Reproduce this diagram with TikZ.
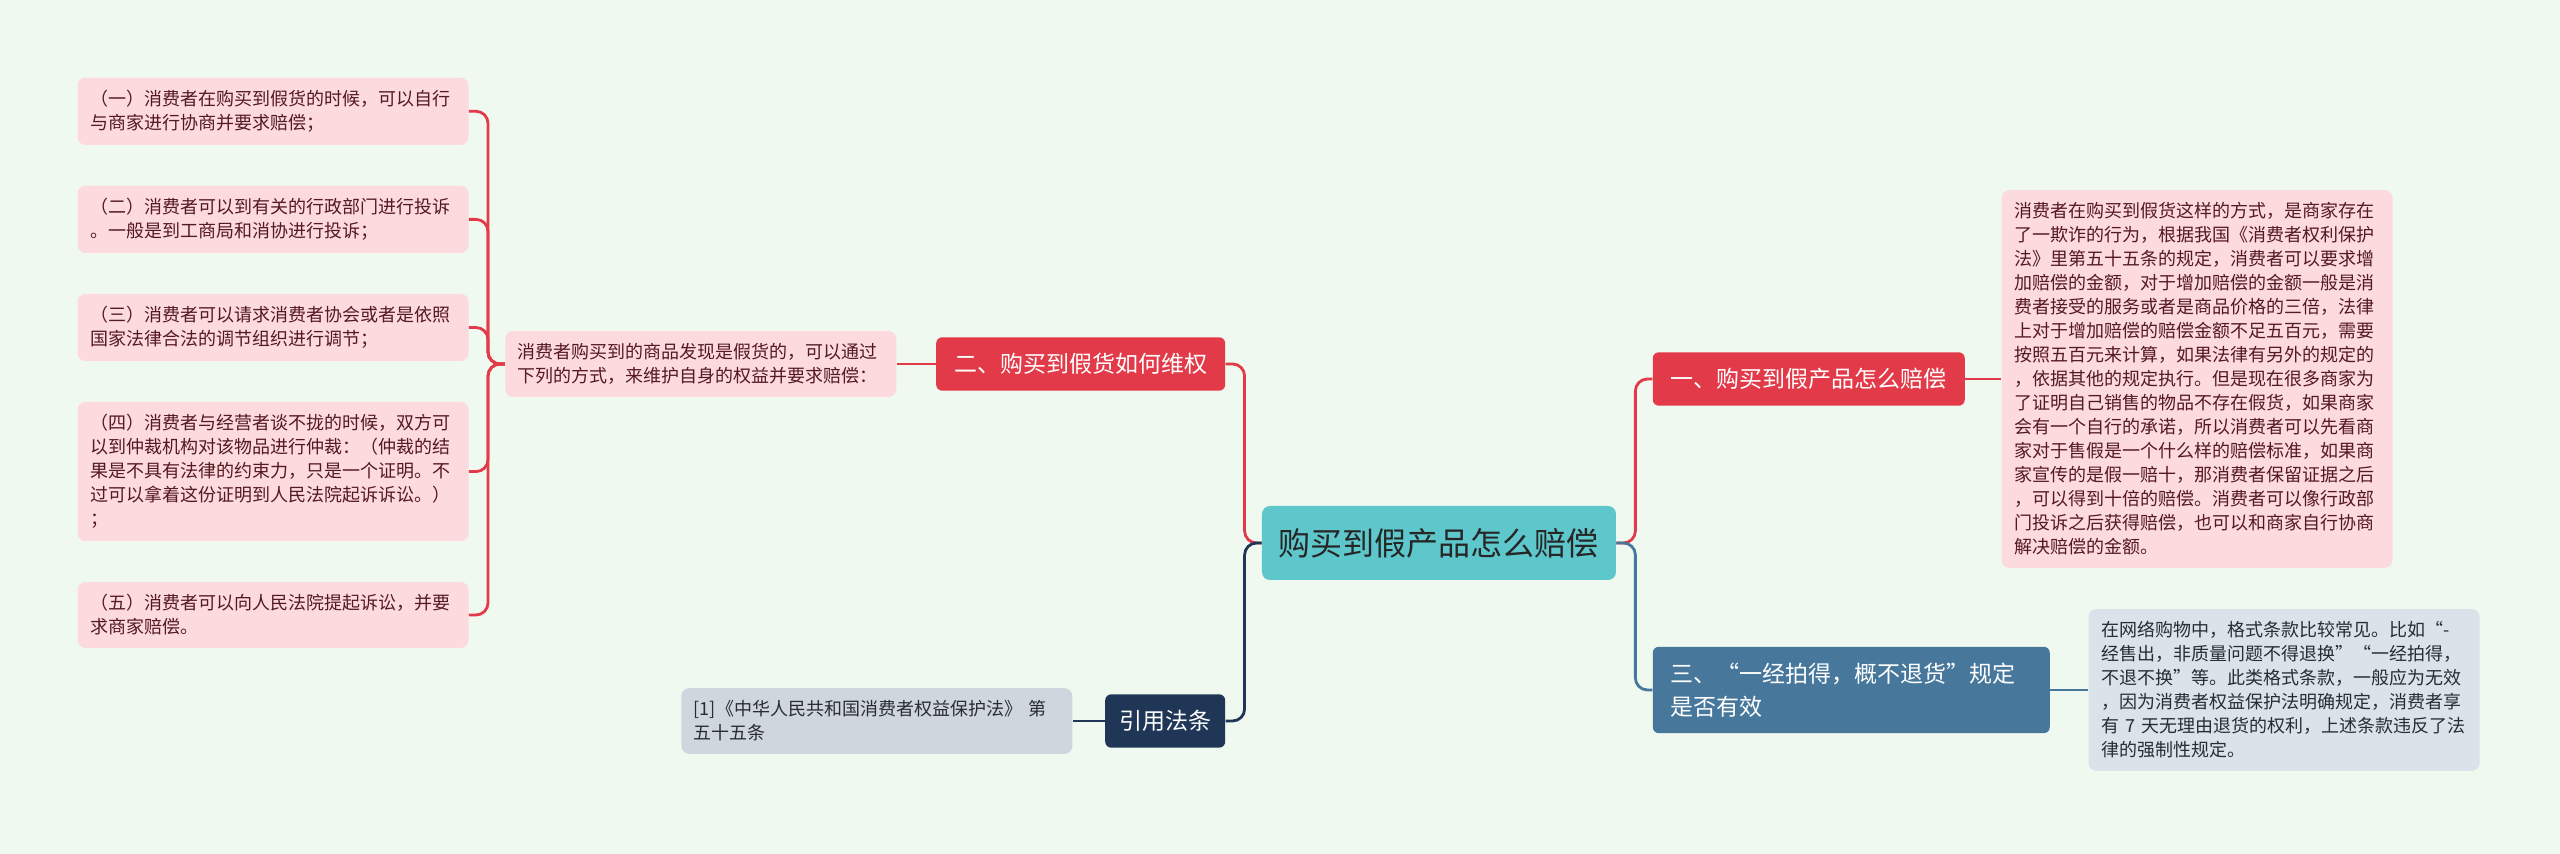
\documentclass[tikz,border=0pt]{standalone}
\usepackage{fontspec}
\setmainfont{Noto Sans CJK SC}
\usetikzlibrary{positioning}

\definecolor{bgmint}{RGB}{240,249,239}
\definecolor{leafpink}{RGB}{252,218,222}
\definecolor{leaftext}{RGB}{85,25,32}
\definecolor{greytext}{RGB}{40,44,52}
\definecolor{branchred}{RGB}{226,58,72}
\definecolor{rootteal}{RGB}{94,199,204}
\definecolor{branchsteel}{RGB}{71,120,156}
\definecolor{branchnavy}{RGB}{31,54,87}
\definecolor{leafgray}{RGB}{208,214,222}
\definecolor{leafblue}{RGB}{218,227,234}

\tikzset{
  root/.style={fill=rootteal, rounded corners=4pt, minimum width=177pt, minimum height=37pt,
    font=\fontsize{16pt}{19pt}\selectfont, text=black!85},
  branch/.style={fill=#1, rounded corners=3pt, inner xsep=9pt, inner ysep=8pt, align=left,
    text=white, font=\fontsize{11.5pt}{16.5pt}\selectfont},
  leaf/.style={fill=#1, rounded corners=4pt, text width=183pt, inner xsep=6.25pt, inner ysep=6.25pt,
    align=left, font=\fontsize{9pt}{12pt}\selectfont},
  pinkleaf/.style={leaf=leafpink, text=leaftext},
  link/.style={draw=#1, line width=1.4pt, rounded corners=6pt},
}

\begin{document}
\begin{tikzpicture}

  \path[use as bounding box, fill=bgmint] (-719.5pt,271.5pt) rectangle (560.5pt,-155.5pt);

  \node[root] (c) {购买到假产品怎么赔偿};

  % right side
  \node[branch=branchred, right=18pt of c, yshift=82pt] (q1) {一、购买到假产品怎么赔偿};
  \node[branch=branchsteel, text width=180.5pt, right=18pt of c, yshift=-73.5pt] (q3) {三、“一经拍得，概不退货”规定\\是否有效};
  \node[pinkleaf, right=18pt of q1] (r1) {消费者在购买到假货这样的方式，是商家存在\\了一欺诈的行为，根据我国《消费者权利保护\\法》里第五十五条的规定，消费者可以要求增\\加赔偿的金额，对于增加赔偿的金额一般是消\\费者接受的服务或者是商品价格的三倍，法律\\上对于增加赔偿的赔偿金额不足五百元，需要\\按照五百元来计算，如果法律有另外的规定的\\，依据其他的规定执行。但是现在很多商家为\\了证明自己销售的物品不存在假货，如果商家\\会有一个自行的承诺，所以消费者可以先看商\\家对于售假是一个什么样的赔偿标准，如果商\\家宣传的是假一赔十，那消费者保留证据之后\\，可以得到十倍的赔偿。消费者可以像行政部\\门投诉之后获得赔偿，也可以和商家自行协商\\解决赔偿的金额。};
  \node[leaf=leafblue, text=greytext, right=19pt of q3] (r3) {在网络购物中，格式条款比较常见。比如“-\\经售出，非质量问题不得退换”“一经拍得，\\不退不换”等。此类格式条款，一般应为无效\\，因为消费者权益保护法明确规定，消费者享\\有 7 天无理由退货的权利，上述条款违反了法\\律的强制性规定。};

  % left side
  \node[branch=branchred, left=18pt of c, yshift=89.5pt] (q2) {二、购买到假货如何维权};
  \node[branch=branchnavy, inner xsep=7pt, left=18pt of c, yshift=-89pt] (ref) {引用法条};
  \node[pinkleaf, left=19.5pt of q2] (m2) {消费者购买到的商品发现是假货的，可以通过\\下列的方式，来维护自身的权益并要求赔偿：};
  \node[leaf=leafgray, text=greytext, left=16pt of ref] (lref) {[1]《中华人民共和国消费者权益保护法》 第\\五十五条};

  \node[pinkleaf, left=18pt of m2, yshift=18.25pt] (L3) {（三）消费者可以请求消费者协会或者是依照\\国家法律合法的调节组织进行调节；};
  \node[pinkleaf, above=20pt of L3] (L2) {（二）消费者可以到有关的行政部门进行投诉\\。一般是到工商局和消协进行投诉；};
  \node[pinkleaf, above=20pt of L2] (L1) {（一）消费者在购买到假货的时候，可以自行\\与商家进行协商并要求赔偿；};
  \node[pinkleaf, below=20pt of L3] (L4) {（四）消费者与经营者谈不拢的时候，双方可\\以到仲裁机构对该物品进行仲裁：（仲裁的结\\果是不具有法律的约束力，只是一个证明。不\\过可以拿着这份证明到人民法院起诉诉讼。）\\；};
  \node[pinkleaf, below=20pt of L4] (L5) {（五）消费者可以向人民法院提起诉讼，并要\\求商家赔偿。};

  % connectors
  \coordinate[left=8.5pt of c.west] (sC);
  \coordinate[right=9.5pt of c.east] (sR);
  \coordinate[left=8.5pt of m2.west] (sL);

  \draw[link=branchred] (c.west) -- (sC) |- (q2.east);
  \draw[link=branchnavy] (c.west) -- (sC) |- (ref.east);
  \draw[link=branchred] (c.east) -- (sR) |- (q1.west);
  \draw[link=branchsteel] (c.east) -- (sR) |- (q3.west);

  \draw[link=branchred] (q2.west) -- (m2.east);
  \draw[link=branchred] (q1.east) -- (q1.east -| r1.west);
  \draw[link=branchsteel] (q3.east) -- (q3.east -| r3.west);
  \draw[link=branchnavy] (ref.west) -- (ref.west -| lref.east);

  \foreach \i in {1,...,5}
    \draw[link=branchred] (m2.west) -- (sL) |- (L\i.east);

\end{tikzpicture}
\end{document}
